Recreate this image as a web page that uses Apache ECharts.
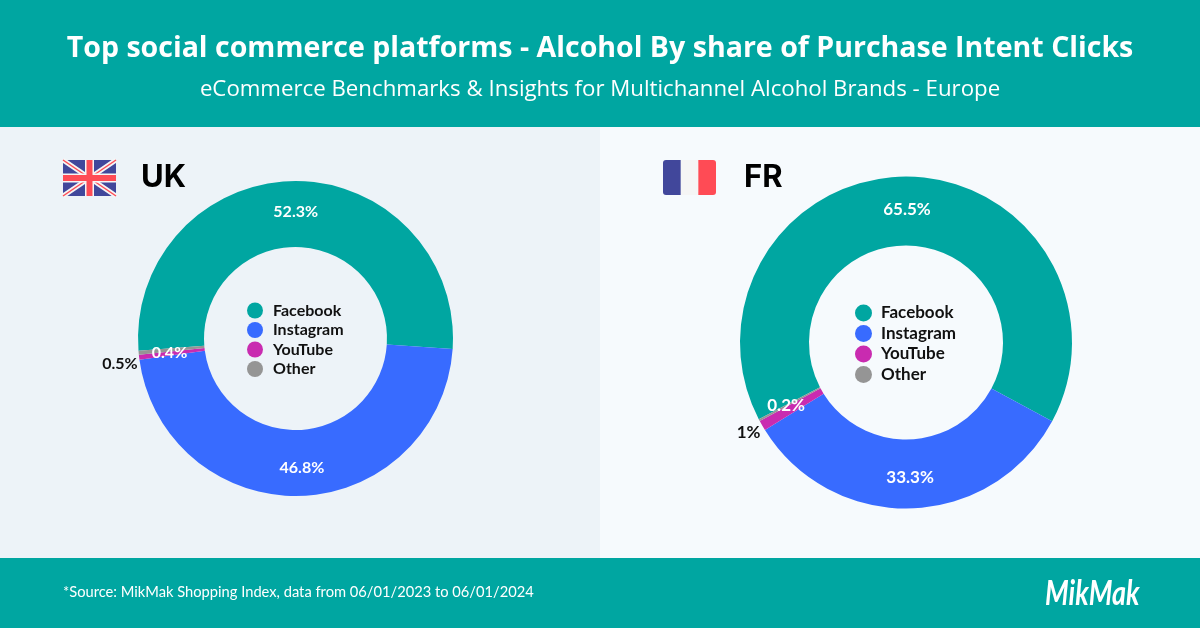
<!DOCTYPE html>
<html>
<head>
<meta charset="utf-8">
<style>
html, body { margin: 0; padding: 0; background: #fff; }
#chart { width: 1200px; height: 628px; }
</style>
<script src="https://cdn.jsdelivr.net/npm/echarts@6/dist/echarts.min.js"></script>
</head>
<body>
<div id="chart"></div>
<script>
var platforms = ['Facebook', 'Instagram', 'YouTube', 'Other'];
var colors = ['#00A6A1', '#386BFF', '#C92BB0', '#959595'];
var ukValues = [52.3, 46.8, 0.5, 0.4];
var frValues = [65.5, 33.3, 1, 0.2];
var titleText = 'Top social commerce platforms - Alcohol By share of Purchase Intent Clicks';
var subtitleText = 'eCommerce Benchmarks & Insights for Multichannel Alcohol Brands - Europe';
var sourceText = '*Source: MikMak Shopping Index, data from 06/01/2023 to 06/01/2024';

var myChart = echarts.init(document.getElementById('chart'), null, {renderer: 'canvas'});

var FONT = 'Lato, "Noto Sans", sans-serif';
var HEAD_FONT = '"Open Sans", Lato, sans-serif';

// index 2 (YouTube) is too thin for its label, it goes outside in black
function buildData(values, fontSize) {
    return values.map(function (v, i) {
        var outside = i === 2;
        return {
            name: platforms[i],
            value: v,
            itemStyle: {color: colors[i]},
            label: {
                position: outside ? 'outside' : 'inside',
                color: outside ? '#111' : '#fff',
                fontSize: fontSize
            }
        };
    });
}

function makePie(values, cx, cy, inner, outer, startAngle, fontSize, nudges) {
    return {
        type: 'pie',
        center: [cx, cy],
        radius: [inner, outer],
        startAngle: startAngle,
        clockwise: true,
        silent: true,
        avoidLabelOverlap: false,
        label: {
            show: true,
            fontFamily: FONT,
            fontWeight: 'bold',
            formatter: function (p) { return p.value + '%'; }
        },
        labelLine: {show: false, length: 2, length2: 2},
        labelLayout: function (params) {
            var n = nudges[params.dataIndex];
            return {dx: n[0], dy: n[1]};
        },
        data: buildData(values, fontSize)
    };
}

function makeLegend(left, top, gap, size, fontSize, textPad) {
    return {
        left: left,
        top: top,
        orient: 'vertical',
        icon: 'circle',
        itemWidth: size,
        itemHeight: size,
        itemGap: gap,
        selectedMode: false,
        padding: 0,
        data: platforms,
        textStyle: {fontFamily: FONT, fontWeight: 'bold', fontSize: fontSize, color: '#111', padding: [0, 0, 0, textPad]}
    };
}

function ukFlag(x, y, w, h) {
    var mx = x + w / 2, my = y + h / 2;
    var red = '#FF4B55', blue = '#41479B', white = '#F5F5F5';
    return [
        {type: 'rect', shape: {x: x, y: y, width: w, height: h, r: 2}, style: {fill: blue}},
        {type: 'line', shape: {x1: x, y1: y, x2: x + w, y2: y + h}, style: {stroke: white, lineWidth: 5}},
        {type: 'line', shape: {x1: x + w, y1: y, x2: x, y2: y + h}, style: {stroke: white, lineWidth: 5}},
        {type: 'line', shape: {x1: x, y1: y, x2: x + w, y2: y + h}, style: {stroke: red, lineWidth: 1.5}},
        {type: 'line', shape: {x1: x + w, y1: y, x2: x, y2: y + h}, style: {stroke: red, lineWidth: 1.5}},
        {type: 'rect', shape: {x: mx - 4.5, y: y, width: 9, height: h}, style: {fill: white}},
        {type: 'rect', shape: {x: x, y: my - 4.5, width: w, height: 9}, style: {fill: white}},
        {type: 'rect', shape: {x: mx - 3, y: y, width: 6, height: h}, style: {fill: red}},
        {type: 'rect', shape: {x: x, y: my - 3, width: w, height: 6}, style: {fill: red}}
    ];
}

function frFlag(x, y, w, h) {
    var s = w / 3;
    return [
        {type: 'rect', shape: {x: x, y: y, width: s + 1, height: h, r: [3, 0, 0, 3]}, style: {fill: '#41479B'}},
        {type: 'rect', shape: {x: x + s, y: y, width: s, height: h}, style: {fill: '#F5F5F5'}},
        {type: 'rect', shape: {x: x + 2 * s, y: y, width: s, height: h, r: [0, 3, 3, 0]}, style: {fill: '#FF4B55'}}
    ];
}

var graphics = [
    {type: 'rect', z: -1, shape: {x: 0, y: 0, width: 1200, height: 127}, style: {fill: '#00A6A1'}},
    {type: 'rect', z: -1, shape: {x: 0, y: 127, width: 600, height: 431}, style: {fill: '#EDF3F8'}},
    {type: 'rect', z: -1, shape: {x: 600, y: 127, width: 600, height: 431}, style: {fill: '#F6FAFD'}},
    {type: 'rect', z: -1, shape: {x: 0, y: 558, width: 1200, height: 70}, style: {fill: '#00A6A1'}},
    {type: 'text', style: {x: 600, y: 48.5, text: titleText, fill: '#fff', font: 'bold 28.55px ' + HEAD_FONT, textAlign: 'center', textVerticalAlign: 'middle'}},
    {type: 'text', style: {x: 600, y: 90, text: subtitleText, fill: '#fff', font: '22.25px ' + HEAD_FONT, textAlign: 'center', textVerticalAlign: 'middle'}},
    {type: 'text', style: {x: 141, y: 178, text: 'UK', fill: '#000', font: 'bold 31px Inter, sans-serif', textVerticalAlign: 'middle'}},
    {type: 'text', style: {x: 744, y: 178, text: 'FR', fill: '#000', font: 'bold 31px Inter, sans-serif', textVerticalAlign: 'middle'}},
    {type: 'text', style: {x: 63, y: 592, text: sourceText, fill: '#fff', font: '14.7px ' + FONT, textVerticalAlign: 'middle'}},
    {type: 'text', x: 1045, y: 594, scaleY: 1.25, style: {x: 0, y: 0, text: 'MikMak', fill: '#fff', font: 'italic bold 27px ' + FONT, textVerticalAlign: 'middle'}}
].concat(ukFlag(63, 160, 53, 36), frFlag(663, 160, 53, 35));

var option = {
    animation: false,
    backgroundColor: '#fff',
    legend: [
        makeLegend(247, 302.5, 3.5, 16, 16, 5),
        makeLegend(855, 304.5, 3.5, 17, 17, 4)
    ],
    graphic: graphics,
    series: [
        makePie(ukValues, 295.5, 338.5, 91.5, 157.5, 184.5, 16, [[1, 1], [2, 2], [7.5, 6], [1, 3]]),
        makePie(frValues, 906, 342.5, 97, 166, 207.5, 17, [[0, 2], [0, 1], [7, 6], [-1, 0]])
    ]
};

myChart.setOption(option);
</script>
</body>
</html>
